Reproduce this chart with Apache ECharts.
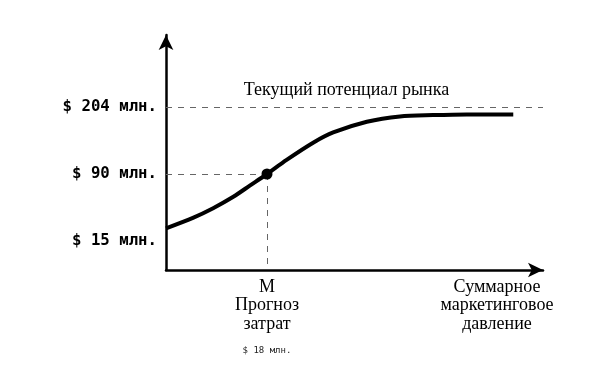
<!DOCTYPE html>
<html><head><meta charset="utf-8">
<script src="https://cdn.jsdelivr.net/npm/echarts@6/dist/echarts.min.js"></script>
<style>html,body{margin:0;padding:0;background:#fff}#c{width:592px;height:389px}</style>
</head><body><div id="c"></div>
<script>
// x: cumulative marketing spend ($ mln, schematic); y: market level index (0 = $15, 1 = $90, 2 = $204)
const curveX = [0, 4.9, 8.4, 12.0, 15.0, 18, 21.5, 26.3, 29.8, 35.8, 41.7, 47.6, 53.6, 61.9];
const curveY = [0.19, 0.35, 0.49, 0.66, 0.83, 1.0, 1.21, 1.47, 1.62, 1.78, 1.86, 1.88, 1.89, 1.89];
const yLevels = [0, 1, 2];
const yLabels = ['$ 15 млн.', '$ 90 млн.', '$ 204 млн.'];
const mX = 18, mY = 1;           // forecast point M
const potentialY = 2;            // current market potential
const potentialText = 'Текущий потенциал рынка';
const xLabelValues = [18, 59];
const xLabelTexts = [['М', 'Прогноз', 'затрат'], ['Суммарное', 'маркетинговое', 'давление']];
const mCostText = '$ 18 млн.';
const xMin = 0, xMax = 67.2, yMin = -0.433, yMax = 3.075;

const serif = '"Liberation Serif","DejaVu Serif",serif';
const mono = '"DejaVu Sans Mono","Liberation Mono",monospace';
const dash = {color:'#666', width:1, type:[6,6]};

const chart = echarts.init(document.getElementById('c'), null, {renderer:'canvas'});
chart.setOption({
  animation:false,
  grid:{left:166, right:49, top:35, bottom:119},
  xAxis:{type:'value', min:xMin, max:xMax,
    axisLine:{show:true, onZero:false, lineStyle:{color:'#000', width:2.5}, symbol:['none','arrow'], symbolSize:[11,15]},
    axisTick:{show:false}, splitLine:{show:false},
    axisLabel:{customValues:xLabelValues, margin:8, color:'#000', fontFamily:serif, fontSize:18, lineHeight:18.5,
      formatter:function(v){
        const i = xLabelValues.indexOf(v);
        let s = xLabelTexts[i].map(t=>'{a|'+t+'}').join('\n');
        if (i===0) s += '\n{b|'+mCostText+'}';
        return s;
      },
      rich:{a:{fontFamily:serif, fontSize:18, lineHeight:18.5, color:'#000'},
            b:{fontFamily:mono, fontSize:9, lineHeight:22, color:'#222', verticalAlign:'bottom'}}}
  },
  yAxis:{type:'value', min:yMin, max:yMax,
    axisLine:{show:true, onZero:false, lineStyle:{color:'#000', width:2.5}, symbol:['none','arrow'], symbolSize:[11,15]},
    axisTick:{show:false}, splitLine:{show:false},
    axisLabel:{customValues:yLevels, margin:9, color:'#000', fontFamily:mono, fontWeight:'bold', fontSize:15.7,
      formatter:function(v){ return yLabels[yLevels.indexOf(v)]; }}
  },
  series:[
    {type:'line', data:curveX.map((x,i)=>[x,curveY[i]]), smooth:0.3, symbol:'none',
      lineStyle:{color:'#000', width:4}, z:3,
      markLine:{symbol:'none', silent:true, lineStyle:dash, z:1,
        data:[
          {yAxis:potentialY, label:{show:true, position:'insideMiddleTop', distance:8, offset:[-8,0], formatter:potentialText,
             color:'#000', fontFamily:serif, fontSize:18}},
          [{coord:[xMin,mY], label:{show:false}}, {coord:[mX,mY]}],
          [{coord:[mX,mY], label:{show:false}}, {coord:[mX,yMin]}]
        ]}
    },
    {type:'scatter', data:[[mX,mY]], symbol:'circle', symbolSize:11, itemStyle:{color:'#000', opacity:1}, z:6}
  ]
});
</script></body></html>
